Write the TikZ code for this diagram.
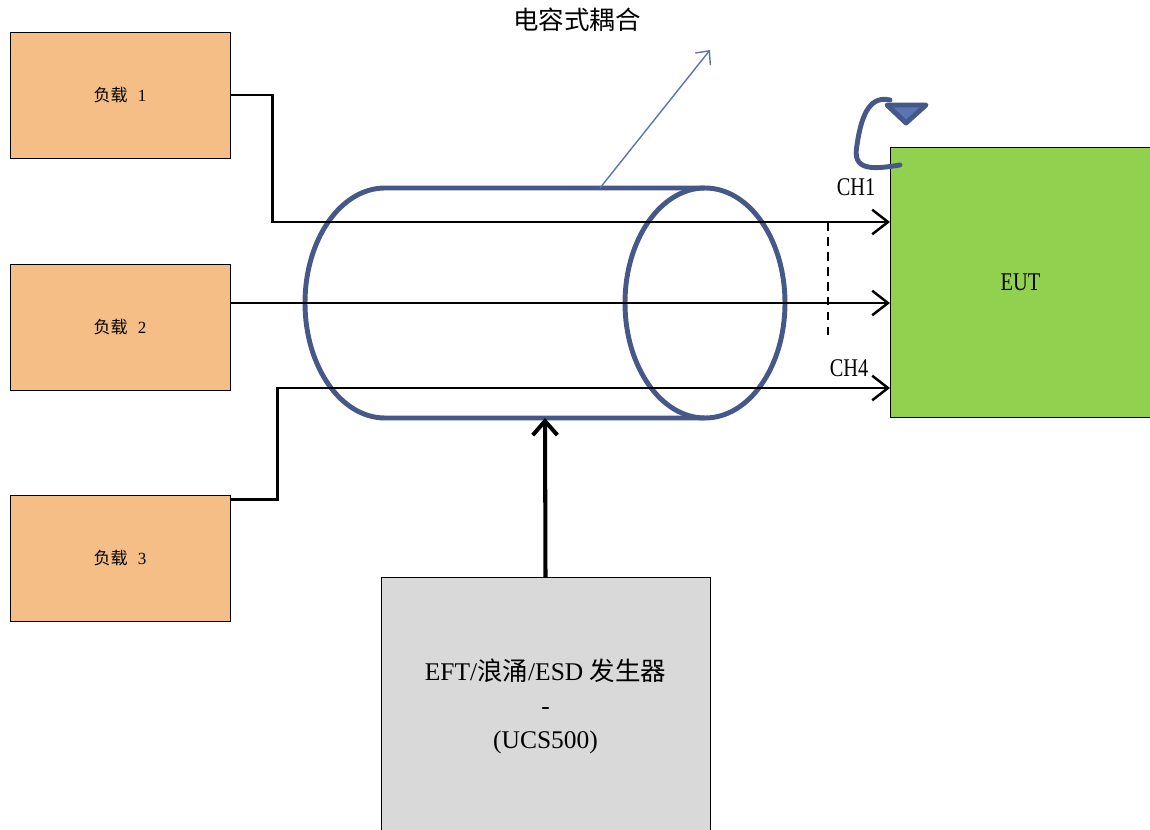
\documentclass[tikz,border=0pt]{standalone}
\usepackage{fontspec}
\setmainfont{Liberation Serif}[FakeStretch=0.8]
\newfontfamily\cjk{Noto Sans CJK SC}
\newfontfamily\widelat{Liberation Serif}
\usepackage{xcolor}
\usepackage{tikz}
\usetikzlibrary{arrows.meta}

\definecolor{loadorange}{HTML}{F4BE86}
\definecolor{eutgreen}{HTML}{92D050}
\definecolor{gengray}{HTML}{D9D9D9}
\definecolor{cylblue}{HTML}{465888}
\definecolor{linkblue}{HTML}{5B74B8}
\newcommand{\zh}[1]{{\cjk #1}}

\begin{document}
\begin{tikzpicture}[x=0.02cm, y=-0.02cm,
  load/.style={draw, fill=loadorange, minimum width=4.4cm, minimum height=2.52cm, inner sep=0pt, font=\fontsize{9.7}{12}\selectfont},
  lbl/.style={font=\fontsize{14.5}{19.5}\selectfont},
  wire/.style={line width=1.4pt, -{Straight Barb[length=9pt, width=14pt]}},
  cyl/.style={line width=2.8pt, cylblue}]
  \useasboundingbox (0,0) rectangle (1150,830);

  % Cylinder (coupling clamp)
  \draw[cyl] (705,188) -- (385,188) arc[start angle=270, end angle=90, x radius=80, y radius=115] -- (705,418);
  \draw[cyl] (705,303) ellipse[x radius=80, y radius=115];
  \coordinate (cyltop) at (600,188);
  \coordinate (cylbot) at (545,418);
  \coordinate (couple) at (710,50);

  % Loads
  \node[load] (load1) at (120,95) {\zh{负载}\hspace{0.6em}{\widelat 1}};
  \node[load] (load2) at (120,327) {\zh{负载}\hspace{0.6em}{\widelat 2}};
  \node[load] (load3) at (120,558) {\zh{负载}\hspace{0.6em}{\widelat 3}};

  % EUT
  \node[draw, fill=eutgreen, minimum width=5.22cm, minimum height=5.4cm, inner sep=0pt, lbl] (eut) at (1020.5,282) {EUT};
  \coordinate (ch1) at (890,222);
  \coordinate (ch2) at (890,303);
  \coordinate (ch4) at (890,388);

  % Generator
  \node[draw, fill=gengray, minimum width=6.58cm, minimum height=5.16cm, inner sep=0pt, align=center,
    font=\widelat\fontsize{14.5}{19.5}\selectfont, anchor=north] (gen) at (545.5,577)
    {EFT/\zh{浪涌}/ESD \zh{发生器}\\-\\(UCS500)};

  % Lines
  \draw[wire] (load1.east) -- ++(42,0) |- (ch1);
  \draw[wire] (load2.east |- ch2) -- (ch2);
  \draw[wire] ([yshift=-0.1cm]load3.north east) -- ++(47,0) |- (ch4);
  \draw[line width=1.3pt, dash pattern=on 5pt off 3.5pt] (828,222) -- (828,340);
  \node[lbl] (ch1lbl) at (856,187) {CH1};
  \node[lbl] (ch4lbl) at (849,368) {CH4};

  % Injection
  \draw[line width=2.3pt, -{Straight Barb[length=8pt, width=14pt]}] (gen.north) -- (cylbot);

  % Capacitive coupling
  \draw[line width=0.8pt, linkblue, -{Straight Barb[length=6pt, width=11pt]}] (cyltop) -- (couple);
  \node[lbl] (couplelbl) at (577,20) {\zh{电容式耦合}};

  % Rotation mark
  \draw[cyl, line cap=round] (900,165) .. controls (870,170) and (852,170) .. (857,145) .. controls (862,110) and (872,96) .. (890,100);
  \filldraw[cyl, fill=linkblue, line join=round] (887,105) -- (926,105) -- (906,123) -- cycle;
\end{tikzpicture}
\end{document}
